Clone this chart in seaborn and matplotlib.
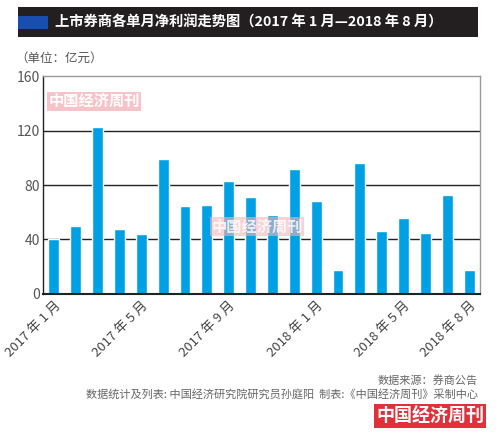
import numpy as np
import pandas as pd
import matplotlib.pyplot as plt
import matplotlib.patches as mpatches
import seaborn as sns

# monthly net profit (亿元), 2017-01 .. 2018-08
months = [f"2017年{m}月" for m in range(1, 13)] + [f"2018年{m}月" for m in range(1, 9)]
profit = [40, 50, 122.5, 47.5, 44, 99.5, 64.5, 65.5, 83, 71.5,
          58, 92, 68.5, 17.5, 96.5, 46, 55.5, 45, 72.5, 17.5]
label_pos = [0, 4, 8, 12, 16, 19]
label_text = ["2017 年 1 月", "2017 年 5 月", "2017 年 9 月",
              "2018 年 1 月", "2018 年 5 月", "2018 年 8 月"]

sns.set_style("white")
plt.rcParams['font.family'] = ['Noto Sans CJK SC', 'DejaVu Sans']

df = pd.DataFrame({'month': months, 'profit': profit})

fig = plt.figure(figsize=(5, 4.38), dpi=100)
ax = fig.add_axes([0.086, 0.329, 0.874, 0.497])
sns.barplot(data=df, x='month', y='profit', color='#00a0e4', saturation=1,
            width=0.5, ax=ax)

ax.set_ylim(0, 160)
ax.set_xlim(-0.5, len(months) - 0.5)
ax.set_yticks([0, 40, 80, 120, 160])
for v in [40, 80, 120]:
    ax.axhline(v, color='#222222', lw=1.0, zorder=0)
ax.tick_params(axis='y', length=0, labelsize=10, labelcolor='#555555', pad=2)
ax.set_xticks(label_pos)
ax.set_xticklabels(label_text, rotation=45, ha='right', rotation_mode='anchor',
                   fontsize=9.5, color='#444444')
ax.tick_params(axis='x', length=0, pad=4)
ax.set_xticks(np.arange(len(months) - 1) + 0.5, minor=True)
ax.tick_params(axis='x', which='minor', direction='in', length=4, width=1, color='#222222')
ax.set_xlabel('')
ax.set_ylabel('')

for side in ['top', 'right', 'left']:
    ax.spines[side].set_color('#999999')
    ax.spines[side].set_linewidth(1)
ax.spines['left'].set_color('#222222')
ax.spines['bottom'].set_color('#222222')
ax.spines['bottom'].set_linewidth(1.5)

# watermarks inside plot
ax.text(0.012, 0.885, '中国经济周刊', transform=ax.transAxes, fontsize=11, color='white',
        fontweight='bold', va='center',
        bbox=dict(facecolor='#f4b6bb', edgecolor='none', pad=1, alpha=0.8))
ax.text(0.385, 0.31, '中国经济周刊', transform=ax.transAxes, fontsize=11, color='white',
        fontweight='bold', alpha=0.8, va='center',
        bbox=dict(facecolor='#f4b6bb', edgecolor='none', pad=1, alpha=0.6), zorder=5)

# title bar
fig.patches.append(mpatches.Rectangle((0.036, 0.915), 0.92, 0.068, transform=fig.transFigure,
                                      facecolor='#231f20', edgecolor='none'))
fig.patches.append(mpatches.Rectangle((0.036, 0.934), 0.06, 0.03, transform=fig.transFigure,
                                      facecolor='#1a4db0', edgecolor='none'))
fig.text(0.11, 0.949, '上市券商各单月净利润走势图（2017 年 1 月—2018 年 8 月）',
         color='white', fontsize=10.3, fontweight='bold', va='center')
fig.text(0.03, 0.868, '（单位：亿元）', color='#555555', fontsize=9, va='center')

# footer
fig.text(0.955, 0.132, '数据来源：券商公告', ha='right', va='center', fontsize=8, color='#666666')
fig.text(0.955, 0.099, '数据统计及列表: 中国经济研究院研究员孙庭阳  制表:《中国经济周刊》采制中心',
         ha='right', va='center', fontsize=8, color='#666666')
fig.text(0.968, 0.05, '中国经济周刊', ha='right', va='center', fontsize=13, color='white',
         fontweight='bold', bbox=dict(facecolor='#e0303a', edgecolor='none', pad=1.5))

fig.savefig('out.png', dpi=100)
